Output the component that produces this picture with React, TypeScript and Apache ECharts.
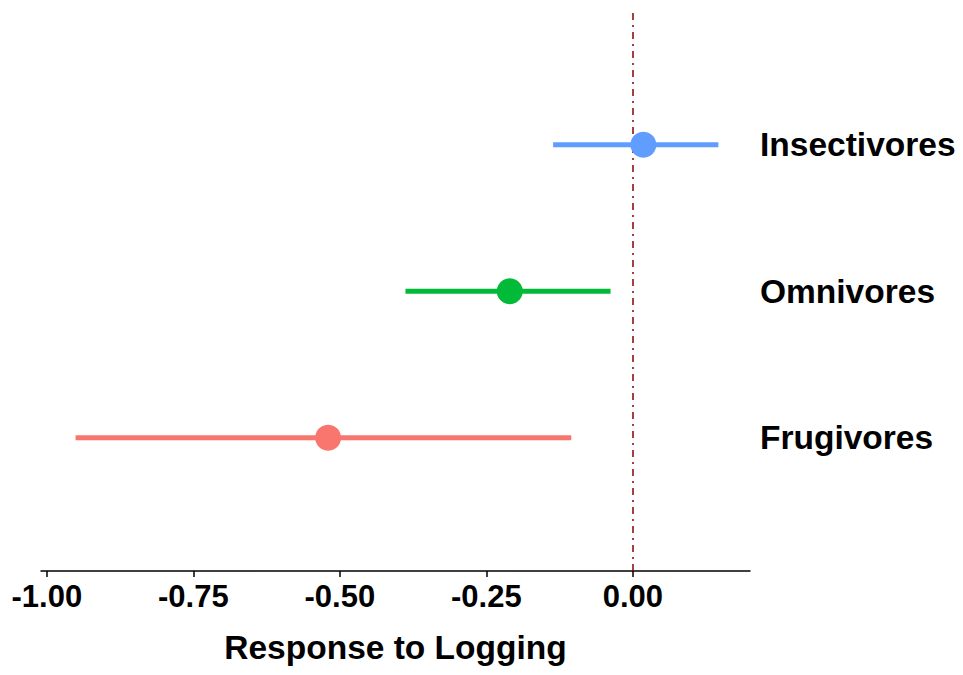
import React, { useEffect, useRef } from "react";
import * as echarts from "echarts";

const groups = ["Frugivores", "Omnivores", "Insectivores"];
const estimates = [-0.52, -0.21, 0.018];
const lower = [-0.951, -0.388, -0.136];
const upper = [-0.105, -0.038, 0.146];
const colors = ["#F8766D", "#00BA38", "#619CFF"];
const xTicks = [-1, -0.75, -0.5, -0.25, 0];

export default function App() {
  const ref = useRef<HTMLDivElement>(null);
  useEffect(() => {
    if (!ref.current) return;
    const chart = echarts.init(ref.current, null, { renderer: "svg" });
    const font = "'Liberation Sans', Arial, sans-serif";
    const series: any[] = [];
    groups.forEach((g, i) => {
      series.push({
        type: "line",
        name: g + " CI",
        data: [
          [lower[i], i + 1],
          [upper[i], i + 1],
        ],
        symbol: "none",
        lineStyle: { color: colors[i], width: 5 },
        z: 2,
        ...(i === 0
          ? {
              markLine: {
                silent: true,
                symbol: "none",
                label: { show: false },
                lineStyle: { color: "#8B0000", width: 1.5, type: [7, 5, 2, 5] },
                data: [{ xAxis: 0 }],
                z: 1,
              },
            }
          : {}),
      });
      series.push({
        type: "scatter",
        name: g,
        data: [[estimates[i], i + 1]],
        symbol: "circle",
        symbolSize: 26,
        itemStyle: { color: colors[i], opacity: 1 },
        z: 3,
      });
    });
    chart.setOption({
      animation: false,
      backgroundColor: "#ffffff",
      grid: { left: 41, right: 213, top: 10, bottom: 104, containLabel: false },
      xAxis: {
        type: "value",
        min: -1.01,
        max: 0.2,
        name: "Response to Logging",
        nameLocation: "middle",
        nameGap: 59,
        nameTextStyle: { fontFamily: font, fontWeight: "bold", fontSize: 33.5, color: "#000" },
        axisLine: { show: true, lineStyle: { color: "#000", width: 1.5 } },
        axisTick: { show: true, customValues: xTicks, length: 6, lineStyle: { color: "#000", width: 1.5 } },
        axisLabel: {
          customValues: xTicks,
          formatter: (v: number) => v.toFixed(2),
          fontFamily: font,
          fontWeight: "bold",
          fontSize: 31,
          color: "#000",
          margin: 10,
        },
        splitLine: { show: false },
      },
      yAxis: {
        type: "value",
        position: "right",
        min: 0.09,
        max: 3.92,
        axisLine: { show: false },
        axisTick: { show: false },
        splitLine: { show: false },
        axisLabel: {
          customValues: [1, 2, 3],
          formatter: (v: number) => groups[Math.round(v) - 1] || "",
          fontFamily: font,
          fontWeight: "bold",
          fontSize: 33.5,
          color: "#000",
          margin: 10,
          align: "left",
        },
      },
      series,
    });
    return () => chart.dispose();
  }, []);
  return (
    <div
      ref={ref}
      style={{ position: "fixed", left: 0, top: 0, width: 963, height: 675, background: "#fff" }}
    />
  );
}
